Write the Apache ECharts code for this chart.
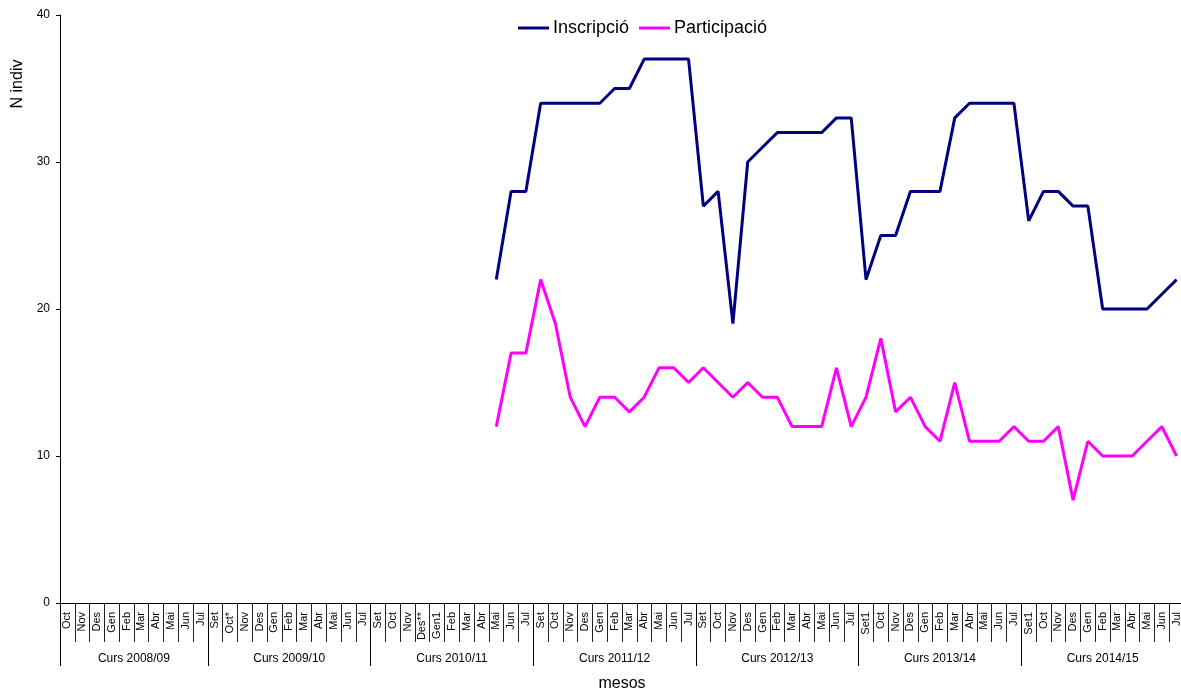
<!DOCTYPE html>
<html>
<head>
<meta charset="utf-8">
<style>
  html, body { margin: 0; padding: 0; background: #fff; }
  #chart { width: 1181px; height: 693px; }
</style>
<script src="https://cdn.jsdelivr.net/npm/echarts@6/dist/echarts.min.js"></script>
</head>
<body>
<div id="chart"></div>
<script>
// Month labels per school year (curs)
const groups = ['Curs 2008/09', 'Curs 2009/10', 'Curs 2010/11', 'Curs 2011/12', 'Curs 2012/13', 'Curs 2013/14', 'Curs 2014/15'];
const months0809 = ['Oct', 'Nov', 'Des', 'Gen', 'Feb', 'Mar', 'Abr', 'Mai', 'Jun', 'Jul'];
const months0910 = ['Set', 'Oct*', 'Nov', 'Des', 'Gen', 'Feb', 'Mar', 'Abr', 'Mai', 'Jun', 'Jul'];
const months1011 = ['Set', 'Oct', 'Nov', 'Des**', 'Gen1', 'Feb', 'Mar', 'Abr', 'Mai', 'Jun', 'Jul'];
const months1112 = ['Set', 'Oct', 'Nov', 'Des', 'Gen', 'Feb', 'Mar', 'Abr', 'Mai', 'Jun', 'Jul'];
const months1213 = ['Set', 'Oct', 'Nov', 'Des', 'Gen', 'Feb', 'Mar', 'Abr', 'Mai', 'Jun', 'Jul'];
const months1314 = ['Set1', 'Oct', 'Nov', 'Des', 'Gen', 'Feb', 'Mar', 'Abr', 'Mai', 'Jun', 'Jul'];
const months1415 = ['Set1', 'Oct', 'Nov', 'Des', 'Gen', 'Feb', 'Mar', 'Abr', 'Mai', 'Jun', 'Jul'];
const monthGroups = [months0809, months0910, months1011, months1112, months1213, months1314, months1415];

// Values start at Mai of Curs 2010/11
const firstDataMonth = 'Mai'; // in Curs 2010/11
const inscripcio = [22, 28, 28,
  34, 34, 34, 34, 34, 35, 35, 37, 37, 37, 37,
  27, 28, 19, 30, 31, 32, 32, 32, 32, 33, 33,
  22, 25, 25, 28, 28, 28, 33, 34, 34, 34, 34,
  26, 28, 28, 27, 27, 20, 20, 20, 20, 21, 22];
const participacio = [12, 17, 17,
  22, 19, 14, 12, 14, 14, 13, 14, 16, 16, 15,
  16, 15, 14, 15, 14, 14, 12, 12, 12, 16, 12,
  14, 18, 13, 14, 12, 11, 15, 11, 11, 11, 12,
  11, 11, 12, 7, 11, 10, 10, 10, 11, 12, 10];

const yTicks = [0, 10, 20, 30, 40];

// Build the axis data
const months = [].concat(...monthGroups);
const startIdx = months0809.length + months0910.length + months1011.indexOf(firstDataMonth);
const pad = n => new Array(n).fill(null);
const insData = pad(startIdx).concat(inscripcio);
const parData = pad(startIdx).concat(participacio);

// Second level axis: half-month positions (boundaryGap false)
const halfCount = months.length * 2 + 1;
const groupAxisData = new Array(halfCount).fill('');
const boundaries = [0];
const centers = [];
let acc = 0;
monthGroups.forEach((g, i) => {
  centers.push(acc * 2 + g.length);
  groupAxisData[acc * 2 + g.length] = groups[i];
  acc += g.length;
  boundaries.push(acc * 2);
});

const FONT = '"Liberation Sans", Arial, Helvetica, sans-serif';
const chart = echarts.init(document.getElementById('chart'));
chart.setOption({
  animation: false,
  textStyle: { fontFamily: FONT },
  legend: {
    left: 513, top: 14,
    itemWidth: 31, itemHeight: 3, itemGap: 10,
    icon: 'rect',
    textStyle: { fontSize: 18, color: '#000', fontFamily: FONT, padding: [0, 0, 0, -1] },
    data: ['Inscripció', 'Participació']
  },
  grid: { left: 60, top: 15, width: 1124, height: 588, containLabel: false, outerBoundsMode: 'none' },
  xAxis: [{
    type: 'category',
    data: months,
    boundaryGap: true,
    position: 'bottom',
    axisLine: { show: true, lineStyle: { color: '#000', width: 1 } },
    axisTick: { show: true, interval: 0, alignWithLabel: false, length: 39, lineStyle: { color: '#222', width: 1 } },
    axisLabel: { interval: 0, rotate: 90, margin: 9, fontSize: 11, color: '#000', fontFamily: FONT },
    name: 'mesos',
    nameLocation: 'middle',
    nameGap: 73,
    nameTextStyle: { fontSize: 16, color: '#000', fontFamily: FONT },
    splitLine: { show: false }
  }, {
    type: 'category',
    data: groupAxisData,
    boundaryGap: false,
    position: 'bottom',
    axisLine: { show: false },
    axisTick: { show: true, interval: (idx) => boundaries.includes(idx), length: 63, lineStyle: { color: '#000', width: 1 } },
    axisLabel: { interval: (idx) => centers.includes(idx), margin: 50, fontSize: 12, color: '#000', fontFamily: FONT, hideOverlap: false },
    splitLine: { show: false }
  }],
  yAxis: {
    type: 'value',
    min: 0, max: 40, interval: 10,
    axisLine: { show: true, lineStyle: { color: '#000', width: 1 } },
    axisTick: { show: true, length: 4, lineStyle: { color: '#000' } },
    axisLabel: { fontSize: 12, color: '#000', margin: 10, fontFamily: FONT,
      formatter: v => yTicks.includes(v) ? String(v) : '' },
    splitLine: { show: false }
  },
  graphic: [{
    type: 'text',
    x: 18, y: 84,
    rotation: Math.PI / 2,
    style: { text: 'N indiv', fontSize: 16, fill: '#000', font: '16px ' + FONT, textAlign: 'center', textVerticalAlign: 'middle' }
  }],
  series: [{
    name: 'Inscripció',
    type: 'line',
    xAxisIndex: 0,
    data: insData,
    showSymbol: false,
    symbol: 'none',
    itemStyle: { color: '#000080' },
    lineStyle: { color: '#000080', width: 3 }
  }, {
    name: 'Participació',
    type: 'line',
    xAxisIndex: 0,
    data: parData,
    showSymbol: false,
    symbol: 'none',
    itemStyle: { color: '#FF00FF' },
    lineStyle: { color: '#FF00FF', width: 3 }
  }]
});
</script>
</body>
</html>
